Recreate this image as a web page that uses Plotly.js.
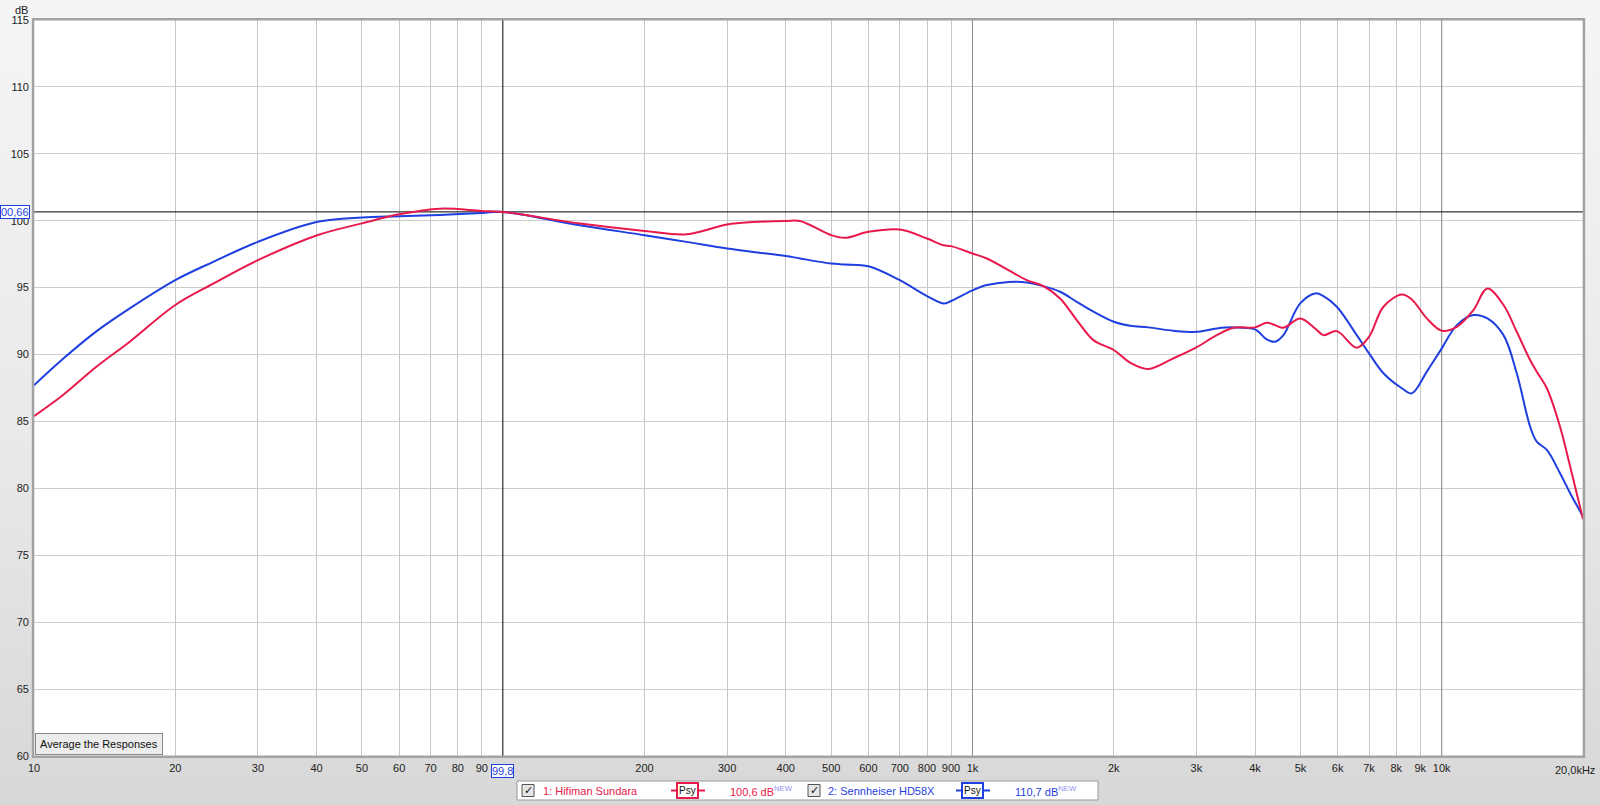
<!DOCTYPE html>
<html><head><meta charset="utf-8">
<script src="https://cdn.plot.ly/plotly-3.0.1.min.js"></script>
<style>
html,body{margin:0;padding:0;width:1600px;height:805px;overflow:hidden;
background:linear-gradient(to bottom,#f5f5f5 0%,#e9e9e9 55%,#dadada 93%,#d8d8d8 100%);}
#chart{width:1600px;height:805px;}
</style></head><body><div id="chart"></div>
<script>
// ---- data ----
const freqHz = [10, 11.55, 13.6, 16, 20, 24.1, 30, 40, 50, 60, 73.3, 90, 99.8, 145.8, 200, 246, 300, 341, 400, 429, 500, 535, 600, 700, 800, 867, 900, 1000, 1073, 1193, 1305, 1416, 1537, 1668, 1810, 2000, 2168, 2371, 2681, 3000, 3317, 3597, 4000, 4238, 4415, 4598, 4992, 5373, 5597, 5975, 6590, 7000, 7512, 8222, 8634, 9294, 10000, 10770, 11680, 12510, 13540, 14450, 15430, 15940, 16750, 17870, 18780, 20000];
const sundaraDb = [85.4, 87.0, 89.1, 90.96, 93.7, 95.3, 97.05, 98.9, 99.8, 100.48, 100.9, 100.73, 100.66, 99.79, 99.24, 98.99, 99.72, 99.9, 99.98, 99.98, 98.92, 98.72, 99.17, 99.34, 98.67, 98.17, 98.1, 97.55, 97.18, 96.31, 95.56, 95.11, 94.19, 92.57, 91.08, 90.34, 89.39, 88.92, 89.72, 90.54, 91.45, 92.0, 92.03, 92.37, 92.2, 92.0, 92.7, 91.95, 91.45, 91.75, 90.51, 91.33, 93.57, 94.49, 94.12, 92.7, 91.78, 92.07, 93.32, 94.94, 93.7, 91.7, 89.59, 88.72, 87.48, 84.61, 81.63, 77.7];
const hd58xDb = [87.7, 89.7, 91.75, 93.45, 95.56, 96.93, 98.42, 99.9, 100.24, 100.33, 100.43, 100.58, 100.66, 99.66, 98.92, 98.42, 97.93, 97.67, 97.37, 97.18, 96.8, 96.73, 96.6, 95.56, 94.37, 93.82, 94.0, 94.8, 95.19, 95.43, 95.39, 95.11, 94.69, 93.94, 93.2, 92.45, 92.15, 92.03, 91.78, 91.7, 91.95, 92.03, 91.88, 91.13, 90.96, 91.45, 93.82, 94.57, 94.37, 93.57, 91.45, 90.09, 88.6, 87.48, 87.1, 88.72, 90.46, 92.2, 92.95, 92.7, 91.45, 88.6, 84.61, 83.49, 82.87, 81.13, 79.64, 77.9];
const seriesNames = ["1: Hifiman Sundara", "2: Sennheiser HD58X"];
const seriesLevels = ["100,6 dB", "110,7 dB"];
const yTickVals = [60, 65, 70, 75, 80, 85, 90, 95, 100, 105, 110, 115];
const xTickVals = [10, 20, 30, 40, 50, 60, 70, 80, 90, 200, 300, 400, 500, 600, 700, 800, 900, 1000, 2000, 3000, 4000, 5000, 6000, 7000, 8000, 9000, 10000];
const xTickText = ["10", "20", "30", "40", "50", "60", "70", "80", "90", "200", "300", "400", "500", "600", "700", "800", "900", "1k", "2k", "3k", "4k", "5k", "6k", "7k", "8k", "9k", "10k"];
const majorFreqs = [1000, 10000];
const cursorFreq = 99.8, cursorDb = 100.66;
const cursorFreqText = "99,8", cursorDbText = "00,66";
const xEndText = "20,0kHz";
const yRange = [60, 115], fRange = [10, 20000];

// ---- geometry ----
const L = 34, R = 17, T = 20, B = 49, WIDTH = 1600, HEIGHT = 805;
const PW = WIDTH - L - R, PH = HEIGHT - T - B;
const px = v => (v - L) / PW;
const py = v => (HEIGHT - B - v) / PH;

const RED = '#e8194b', BLUE = '#1f3fe0';
const FONT = 'Liberation Sans, Arial, sans-serif';

const traces = [];
majorFreqs.forEach(f => traces.push({x: [f, f], y: yRange, mode: 'lines', line: {color: '#8c8c8c', width: 1}, hoverinfo: 'skip', showlegend: false}));
traces.push({x: [cursorFreq, cursorFreq], y: yRange, mode: 'lines', line: {color: '#000', width: 1}, hoverinfo: 'skip', showlegend: false});
traces.push({x: fRange, y: [cursorDb, cursorDb], mode: 'lines', line: {color: '#000', width: 1}, hoverinfo: 'skip', showlegend: false});
traces.push({x: freqHz, y: hd58xDb, name: seriesNames[1], mode: 'lines', line: {color: BLUE, width: 2, shape: 'spline', smoothing: 1}, showlegend: false});
traces.push({x: freqHz, y: sundaraDb, name: seriesNames[0], mode: 'lines', line: {color: RED, width: 2, shape: 'spline', smoothing: 1}, showlegend: false});

const shapes = [
  {type: 'rect', xref: 'paper', yref: 'paper', x0: -0.0006, x1: 1.0006, y0: -0.001, y1: 1.001, line: {color: '#a2a2a2', width: 2.5}},
  // legend box
  {type: 'rect', xref: 'paper', yref: 'paper', x0: px(517), x1: px(1098), y0: py(781), y1: py(800), fillcolor: '#ffffff', line: {color: '#9a9a9a', width: 1}},
  // psy stubs
  {type: 'line', xref: 'paper', yref: 'paper', x0: px(671), x1: px(705), y0: py(790.5), y1: py(790.5), line: {color: RED, width: 2}},
  {type: 'line', xref: 'paper', yref: 'paper', x0: px(956), x1: px(990), y0: py(790.5), y1: py(790.5), line: {color: BLUE, width: 2}},
  // checkboxes
  {type: 'rect', xref: 'paper', yref: 'paper', x0: px(522), x1: px(534), y0: py(784.5), y1: py(796.5), fillcolor: '#e6e6e6', line: {color: '#555', width: 1}},
  {type: 'rect', xref: 'paper', yref: 'paper', x0: px(808), x1: px(820), y0: py(784.5), y1: py(796.5), fillcolor: '#e6e6e6', line: {color: '#555', width: 1}}
];

const tf = {family: FONT, size: 11, color: '#222'};
const annotations = [
  {xref: 'paper', yref: 'paper', x: px(21), y: py(10), text: 'dB', showarrow: false, font: tf, xanchor: 'center', yanchor: 'middle'},
  {xref: 'x', yref: 'paper', x: Math.log10(cursorFreq), y: py(770.5), text: cursorFreqText, showarrow: false, font: {family: FONT, size: 11, color: BLUE}, bgcolor: '#ffffff', bordercolor: BLUE, borderwidth: 1, borderpad: 0, xanchor: 'center', yanchor: 'middle'},
  {xref: 'paper', yref: 'y', x: px(0), y: cursorDb, text: cursorDbText, showarrow: false, font: {family: FONT, size: 11, color: BLUE}, bgcolor: '#ffffff', bordercolor: BLUE, borderwidth: 1, borderpad: 0, xanchor: 'left', yanchor: 'middle'},
  {xref: 'paper', yref: 'paper', x: px(1597), y: py(770), text: xEndText, showarrow: false, font: tf, xanchor: 'right', yanchor: 'middle'},
  {xref: 'paper', yref: 'paper', x: px(98.5), y: py(743.5), text: 'Average the Responses', showarrow: false, font: {family: FONT, size: 11, color: '#111'}, bgcolor: '#ececec', bordercolor: '#8a8a8a', borderwidth: 1, borderpad: 4, xanchor: 'center', yanchor: 'middle'},
  // legend
  {xref: 'paper', yref: 'paper', x: px(528), y: py(790.5), text: '✓', showarrow: false, font: {family: 'DejaVu Sans', size: 11, color: '#111'}, xanchor: 'center', yanchor: 'middle'},
  {xref: 'paper', yref: 'paper', x: px(814), y: py(790.5), text: '✓', showarrow: false, font: {family: 'DejaVu Sans', size: 11, color: '#111'}, xanchor: 'center', yanchor: 'middle'},
  {xref: 'paper', yref: 'paper', x: px(541), y: py(790.5), text: seriesNames[0], showarrow: false, font: {family: FONT, size: 11, color: RED}, xanchor: 'left', yanchor: 'middle'},
  {xref: 'paper', yref: 'paper', x: px(826), y: py(790.5), text: seriesNames[1], showarrow: false, font: {family: FONT, size: 11, color: BLUE}, xanchor: 'left', yanchor: 'middle'},
  {xref: 'paper', yref: 'paper', x: px(687.5), y: py(790.5), text: 'Psy', showarrow: false, font: {family: FONT, size: 10, color: '#111'}, bgcolor: '#ffffff', bordercolor: RED, borderwidth: 2, borderpad: 1, xanchor: 'center', yanchor: 'middle'},
  {xref: 'paper', yref: 'paper', x: px(972.5), y: py(790.5), text: 'Psy', showarrow: false, font: {family: FONT, size: 10, color: '#111'}, bgcolor: '#ffffff', bordercolor: BLUE, borderwidth: 2, borderpad: 1, xanchor: 'center', yanchor: 'middle'},
  {xref: 'paper', yref: 'paper', x: px(728), y: py(790.5), text: seriesLevels[0] + '<span style="color:#8f8ff5"><sup>NEW</sup></span>', showarrow: false, font: {family: FONT, size: 11, color: RED}, xanchor: 'left', yanchor: 'middle'},
  {xref: 'paper', yref: 'paper', x: px(1013), y: py(790.5), text: seriesLevels[1] + '<span style="color:#8f8ff5"><sup>NEW</sup></span>', showarrow: false, font: {family: FONT, size: 11, color: BLUE}, xanchor: 'left', yanchor: 'middle'}
];

const layout = {
  width: WIDTH, height: HEIGHT,
  margin: {l: L, r: R, t: T, b: B, pad: 0},
  paper_bgcolor: 'rgba(0,0,0,0)', plot_bgcolor: '#ffffff',
  font: {family: FONT, size: 11, color: '#222'},
  hovermode: false, showlegend: false,
  xaxis: {type: 'log', range: [Math.log10(fRange[0]), Math.log10(fRange[1])], tickmode: 'array', tickvals: xTickVals, ticktext: xTickText,
          showgrid: true, gridcolor: '#c6c6c6', gridwidth: 1, zeroline: false, showline: false, ticks: '', ticklabelstandoff: 4, tickfont: tf, fixedrange: true},
  yaxis: {range: yRange, tickmode: 'array', tickvals: yTickVals, showgrid: true, gridcolor: '#cdcdcd', gridwidth: 1, zeroline: false, showline: false,
          ticks: '', ticklabelstandoff: 4, tickfont: tf, fixedrange: true},
  shapes: shapes, annotations: annotations
};
Plotly.newPlot('chart', traces, layout, {displayModeBar: false, staticPlot: true});
</script></body></html>
